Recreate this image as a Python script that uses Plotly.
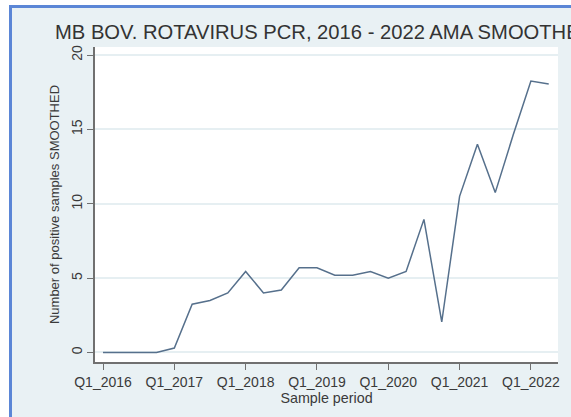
import plotly.graph_objects as go

periods = [f"Q{q}_{y}" for y in range(2016, 2023) for q in range(1, 5)][:26]
values = [0, 0, 0, 0, 0.3, 3.25, 3.5, 4.0, 5.45, 4.0, 4.2, 5.7, 5.7, 5.2, 5.2, 5.45,
          5.0, 5.45, 8.95, 2.05, 10.5, 14.0, 10.75, 14.6, 18.25, 18.05]
tick_labels = ["Q1_2016", "Q1_2017", "Q1_2018", "Q1_2019", "Q1_2020", "Q1_2021", "Q1_2022"]
y_ticks = [0, 5, 10, 15, 20]

W, H = 571, 417
L, R, T, B = 95, 13, 47, 55
PW, PH = W - L - R, H - T - B
font = "Liberation Sans, Arial, sans-serif"
txt = "#3a3a3a"

fig = go.Figure()
fig.add_trace(go.Scatter(x=periods, y=values, mode="lines",
                         line=dict(color="#56708c", width=1.5), showlegend=False))

fig.update_layout(
    width=W, height=H,
    margin=dict(l=L, r=R, t=T, b=B, autoexpand=False),
    paper_bgcolor="white",
    plot_bgcolor="white",
    font=dict(family=font, color=txt, size=13),
    shapes=[
        dict(type="rect", xref="paper", yref="paper",
             x0=(10.5 - L) / PW, x1=1 + 40 / PW,
             y0=-B / PH - 0.2, y1=1 + (T - 6.5) / PH,
             fillcolor="#e9f1f4", line=dict(color="#5b86d6", width=3), layer="below"),
        dict(type="rect", xref="paper", yref="paper", x0=0, x1=1, y0=0, y1=1,
             fillcolor="white", line=dict(width=0), layer="below"),
    ],
    annotations=[
        dict(text="MB BOV. ROTAVIRUS PCR, 2016 - 2022 AMA SMOOTHED",
             xref="paper", yref="paper",
             x=(53 - L) / PW, y=1 + (T - 32) / PH,
             xanchor="left", yanchor="middle", showarrow=False,
             font=dict(size=20.2, color="#333333", family=font)),
    ],
)

fig.update_xaxes(
    type="category",
    range=[-0.45, 25.52],
    tickmode="array", tickvals=tick_labels, ticktext=tick_labels,
    showgrid=False, automargin=False,
    showline=True, linecolor="#707070", linewidth=1.5,
    ticks="outside", ticklen=6, tickcolor="#707070", tickwidth=1.2,
    tickfont=dict(size=14, color=txt),
    title=dict(text="Sample period", font=dict(size=14.3, color=txt), standoff=2),
    zeroline=False,
)
fig.update_yaxes(
    range=[-0.64, 20.54],
    tickmode="array", tickvals=y_ticks,
    tickangle=-90, automargin=False,
    showgrid=True, gridcolor="#e6eff2", gridwidth=1.5,
    showline=True, linecolor="#707070", linewidth=1.5,
    ticks="outside", ticklen=6, tickcolor="#707070", tickwidth=1.2,
    tickfont=dict(size=14, color=txt),
    title=dict(text="Number of positive samples SMOOTHED", font=dict(size=13, color=txt), standoff=6),
    zeroline=False,
)

fig.write_html("out.html", config={"displayModeBar": False},
               post_script="document.body.style.margin='0';document.body.style.overflow='hidden';")
